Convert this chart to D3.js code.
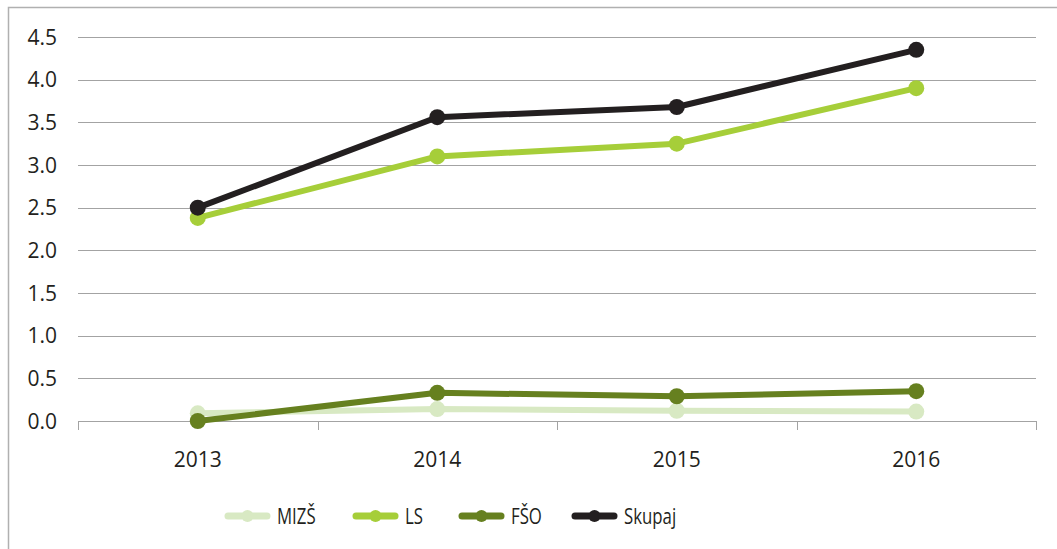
<!DOCTYPE html>
<html>
<head>
<meta charset="utf-8">
<script src="https://cdn.jsdelivr.net/npm/d3@7"></script>
<style>
  body { margin: 0; background: #fff; }
  svg text { font-family: "Open Sans", "Noto Sans", sans-serif; fill: #231f20; }
</style>
</head>
<body>
<div id="chart"></div>
<script>
  var years = ["2013", "2014", "2015", "2016"];
  var yTicks = [0, 0.5, 1, 1.5, 2, 2.5, 3, 3.5, 4, 4.5];
  var seriesNames = ["MIZŠ", "LS", "FŠO", "Skupaj"];
  var seriesColors = ["#d8e9c3", "#a6ce39", "#66801f", "#231f20"];
  var mizs = [0.09, 0.14, 0.12, 0.11];
  var ls = [2.38, 3.10, 3.25, 3.90];
  var fso = [0.0, 0.33, 0.29, 0.35];
  var skupaj = [2.50, 3.56, 3.68, 4.35];
  var seriesValues = [mizs, ls, fso, skupaj];

  var width = 1057, height = 549;
  var margin = {top: 37, right: 21, bottom: 128, left: 78};

  var svg = d3.select("#chart").append("svg")
      .attr("width", width)
      .attr("height", height);

  // outer frame (only top and left edges show)
  svg.append("path")
      .attr("d", "M8.5," + height + "V7.5H" + width)
      .attr("fill", "none")
      .attr("stroke", "#b0b0b0")
      .attr("stroke-width", 1.5);

  var x = d3.scaleBand().domain(years).range([margin.left, width - margin.right]);
  var y = d3.scaleLinear().domain([0, 4.5]).range([height - margin.bottom, margin.top]);
  var y0 = y(0);

  // grid lines
  svg.append("g").selectAll("line")
    .data(yTicks.filter(function(d) { return d > 0; }))
    .enter().append("line")
      .attr("x1", margin.left).attr("x2", width - margin.right)
      .attr("y1", function(d) { return Math.round(y(d)) + 0.5; })
      .attr("y2", function(d) { return Math.round(y(d)) + 0.5; })
      .attr("stroke", "#a3a3a3")
      .attr("stroke-width", 1);

  // y labels
  svg.append("g").selectAll("text")
    .data(yTicks)
    .enter().append("text")
      .attr("x", 57)
      .attr("y", function(d) { return y(d); })
      .attr("dy", "0.36em")
      .attr("text-anchor", "end")
      .style("font-size", "21px")
      .text(function(d) { return d3.format(".1f")(d); });

  // x axis line + band boundary ticks
  var bounds = years.map(function(d) { return x(d); }).concat([width - margin.right]);
  var xa = svg.append("g");
  xa.append("line")
      .attr("x1", margin.left).attr("x2", width - margin.right)
      .attr("y1", Math.round(y0) + 0.5).attr("y2", Math.round(y0) + 0.5)
      .attr("stroke", "#a3a3a3");
  xa.selectAll(".tk").data(bounds).enter().append("line")
      .attr("x1", function(d) { return Math.round(d) + 0.5; })
      .attr("x2", function(d) { return Math.round(d) + 0.5; })
      .attr("y1", Math.round(y0)).attr("y2", Math.round(y0) + 9)
      .attr("stroke", "#a3a3a3");
  xa.selectAll("text").data(years).enter().append("text")
      .attr("x", function(d) { return x(d) + x.bandwidth() / 2; })
      .attr("y", y0 + 46)
      .attr("text-anchor", "middle")
      .style("font-size", "21px")
      .text(function(d) { return d; });

  var line = d3.line()
      .x(function(d, i) { return x(years[i]) + x.bandwidth() / 2; })
      .y(function(d) { return y(d); });

  seriesValues.forEach(function(vals, s) {
    var g = svg.append("g");
    g.append("path")
        .attr("d", line(vals))
        .attr("fill", "none")
        .attr("stroke", seriesColors[s])
        .attr("stroke-width", 6)
        .attr("stroke-linejoin", "round");
    g.selectAll("circle").data(vals).enter().append("circle")
        .attr("cx", function(d, i) { return x(years[i]) + x.bandwidth() / 2; })
        .attr("cy", function(d) { return y(d); })
        .attr("r", 8)
        .attr("fill", seriesColors[s]);
  });

  // legend (text squeezed horizontally, the original face is condensed)
  var legendX = [225, 353, 459, 572];
  var legY = 516;
  var leg = svg.append("g");
  seriesNames.forEach(function(name, i) {
    var lx = legendX[i];
    leg.append("line")
        .attr("x1", lx + 3).attr("x2", lx + 42)
        .attr("y1", legY).attr("y2", legY)
        .attr("stroke", seriesColors[i])
        .attr("stroke-width", 7)
        .attr("stroke-linecap", "round");
    leg.append("circle")
        .attr("cx", lx + 22.5).attr("cy", legY).attr("r", 6)
        .attr("fill", seriesColors[i]);
    leg.append("text")
        .attr("transform", "translate(" + (lx + 52) + "," + legY + ") scale(0.8,1)")
        .attr("dy", "0.36em")
        .style("font-size", "21px")
        .text(name);
  });
</script>
</body>
</html>
